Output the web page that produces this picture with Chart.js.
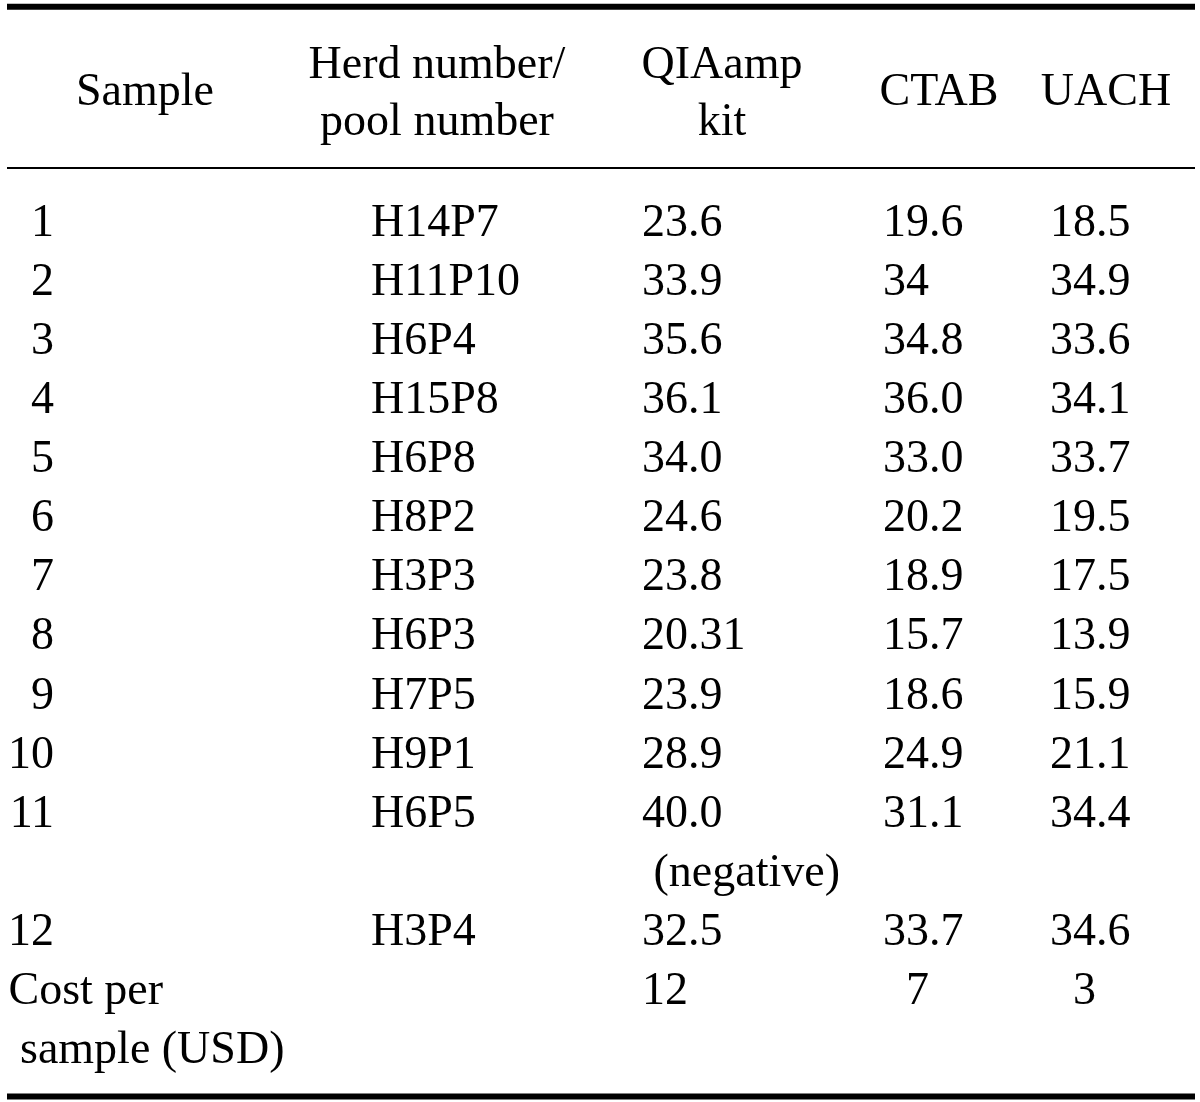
<!DOCTYPE html>
<html>
<head>
<meta charset="utf-8">
<title>Ct values by DNA extraction method</title>
<script src="https://cdn.jsdelivr.net/npm/chart.js@4.4.1/dist/chart.umd.min.js"></script>
<style>
  html, body { margin: 0; padding: 0; background: #fff; }
  canvas { display: block; }
</style>
</head>
<body>
<canvas id="table" width="1200" height="1102"></canvas>
<script>
/* ---------- Table data ---------- */
const samples = ['1', '2', '3', '4', '5', '6', '7', '8', '9', '10', '11', '12'];
const herdPools = ['H14P7', 'H11P10', 'H6P4', 'H15P8', 'H6P8', 'H8P2', 'H3P3', 'H6P3', 'H7P5', 'H9P1', 'H6P5', 'H3P4'];
const qiaamp = ['23.6', '33.9', '35.6', '36.1', '34.0', '24.6', '23.8', '20.31', '23.9', '28.9', '40.0', '32.5'];
const qiaampNotes = ['', '', '', '', '', '', '', '', '', '', '(negative)', ''];
const ctab = ['19.6', '34', '34.8', '36.0', '33.0', '20.2', '18.9', '15.7', '18.6', '24.9', '31.1', '33.7'];
const uach = ['18.5', '34.9', '33.6', '34.1', '33.7', '19.5', '17.5', '13.9', '15.9', '21.1', '34.4', '34.6'];
const costLabel = ['Cost per', ' sample (USD)'];
const costPerSample = ['12', '7', '3'];   // QIAamp, CTAB, UACH

const headers = [['Sample'], ['Herd number/', 'pool number'], ['QIAamp', 'kit'], ['CTAB'], ['UACH']];

/* ---------- Layout (x in px, y in row units) ---------- */
const FONT = '46px "Liberation Serif", "Times New Roman", serif';
const COLS = [
  { x: 54, align: 'right', head: 145 },
  { x: 371, align: 'left', head: 437 },
  { x: 642, align: 'left', head: 722 },
  { x: 883, align: 'left', head: 939 },
  { x: 1050, align: 'left', head: 1106 }
];
const HEAD_ONE = [-2.22];
const HEAD_TWO = [-2.67, -1.71];
const RULES = [
  { y: -3.88, width: 6 },
  { y: -1.15, width: 2 },
  { y: 14.57, width: 6 }
];

// row index for each sample (sample 11 takes an extra line for its note)
const rowIdx = [];
let r = 0;
samples.forEach((s, i) => {
  rowIdx.push(r);
  r += qiaampNotes[i] ? 2 : 1;
});
const costRow = r;

function column(texts, col, rows, pad) {
  return {
    data: texts.map((t, i) => ({ x: COLS[col].x, y: rows[i] })),
    texts: texts.map(t => (pad || '') + t),
    align: COLS[col].align,
    pointRadius: 0,
    showLine: false
  };
}

const datasets = [];

// header cells
headers.forEach((lines, c) => {
  const ys = lines.length === 1 ? HEAD_ONE : HEAD_TWO;
  datasets.push({
    data: lines.map((t, i) => ({ x: COLS[c].head, y: ys[i] })),
    texts: lines,
    align: 'center',
    pointRadius: 0
  });
});

// body
datasets.push(column(samples, 0, rowIdx));
datasets.push(column(herdPools, 1, rowIdx));
datasets.push(column(qiaamp, 2, rowIdx));
datasets.push(column(qiaampNotes.filter(n => n), 2,
  qiaampNotes.map((n, i) => n ? rowIdx[i] + 1 : null).filter(v => v !== null), ' '));
datasets.push(column(ctab, 3, rowIdx));
datasets.push(column(uach, 4, rowIdx));

// cost row
datasets.push({
  data: costLabel.map((t, i) => ({ x: 8.5, y: costRow + i })),
  texts: costLabel,
  align: 'left',
  pointRadius: 0
});
datasets.push(column([costPerSample[0]], 2, [costRow]));
datasets.push(column([costPerSample[1]], 3, [costRow], '  '));
datasets.push(column([costPerSample[2]], 4, [costRow], '  '));

/* ---------- Plugins: rules + cell text ---------- */
const tablePlugin = {
  id: 'tableText',
  beforeDatasetsDraw(chart) {
    const { ctx, scales: { x, y } } = chart;
    ctx.save();
    ctx.strokeStyle = '#000';
    RULES.forEach(rule => {
      const py = y.getPixelForValue(rule.y);
      ctx.lineWidth = rule.width;
      ctx.beginPath();
      ctx.moveTo(x.getPixelForValue(7), py);
      ctx.lineTo(x.getPixelForValue(1195), py);
      ctx.stroke();
    });
    ctx.restore();
  },
  afterDatasetsDraw(chart) {
    const { ctx } = chart;
    ctx.save();
    ctx.font = FONT;
    ctx.fillStyle = '#000';
    ctx.textBaseline = 'alphabetic';
    chart.data.datasets.forEach((ds, i) => {
      const meta = chart.getDatasetMeta(i);
      ctx.textAlign = ds.align;
      meta.data.forEach((el, j) => {
        ctx.fillText(ds.texts[j], el.x, el.y);
      });
    });
    ctx.restore();
  }
};

new Chart(document.getElementById('table'), {
  type: 'scatter',
  data: { datasets },
  options: {
    responsive: false,
    animation: false,
    devicePixelRatio: 1,
    layout: { padding: 0 },
    events: [],
    plugins: {
      legend: { display: false },
      tooltip: { enabled: false }
    },
    scales: {
      x: { type: 'linear', min: 0, max: 1200, display: false },
      y: { type: 'linear', min: -3.995, max: 14.661, reverse: true, display: false }
    }
  },
  plugins: [tablePlugin]
});
</script>
</body>
</html>
